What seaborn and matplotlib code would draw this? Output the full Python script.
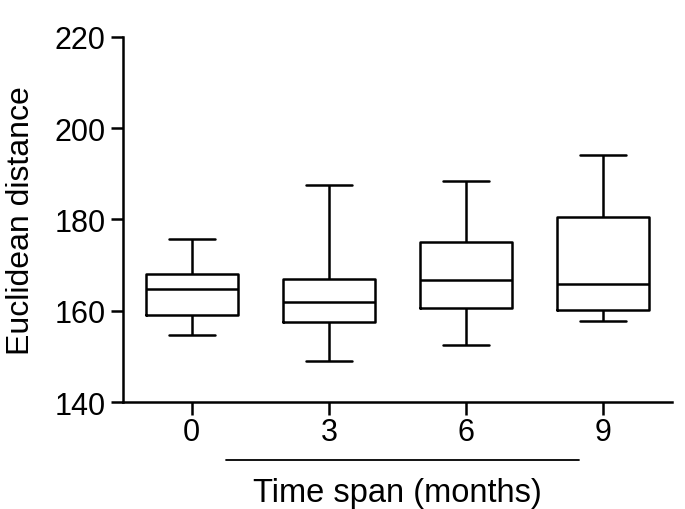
import numpy as np
import pandas as pd
import matplotlib
matplotlib.use("Agg")
import matplotlib.pyplot as plt
import seaborn as sns

# five-number summaries (min, Q1, median, Q3, max)
months = ["0", "3", "6", "9"]
dist_0 = [154.7, 159.1, 164.8, 168.1, 175.7]
dist_3 = [149.0, 157.5, 161.9, 167.0, 187.6]
dist_6 = [152.5, 160.7, 166.7, 175.1, 188.4]
dist_9 = [157.8, 160.1, 165.9, 180.5, 194.2]
y_ticks = [140, 160, 180, 200, 220]

df = pd.DataFrame({
    "month": np.repeat(months, 5),
    "dist": dist_0 + dist_3 + dist_6 + dist_9,
})

sns.set_style("ticks")
plt.rcParams["font.family"] = ["Liberation Sans", "DejaVu Sans"]

fig = plt.figure(figsize=(6.85, 5.1), dpi=100)
ax = fig.add_axes([0.1796, 0.2098, 0.8014, 0.7157])

sns.boxplot(data=df, x="month", y="dist", order=months, whis=(0, 100),
            width=0.67, fill=False, color="black", linecolor="black",
            linewidth=1.8, showfliers=False, ax=ax)

ax.set_xlim(-0.5, 3.5)
ax.set_ylim(140, 220)
ax.set_yticks(y_ticks)
ax.set_ylabel("Euclidean distance", fontsize=23, labelpad=13, color="black")
ax.set_xlabel("")
ax.tick_params(axis="both", labelsize=22, width=1.8, length=9,
               color="black", labelcolor="black")
ax.tick_params(axis="x", pad=2)
for side in ["left", "bottom"]:
    ax.spines[side].set_linewidth(1.8)
    ax.spines[side].set_color("black")
sns.despine(ax=ax)

# underline and label below the tick labels
ax.plot([0.25, 2.82], [-0.159, -0.159], color="black", lw=1.3,
        transform=ax.get_xaxis_transform(), clip_on=False)
ax.text(1.5, -0.248, "Time span (months)", fontsize=23.5, ha="center", va="center",
        color="black", transform=ax.get_xaxis_transform())

fig.savefig("out.png", dpi=100)
